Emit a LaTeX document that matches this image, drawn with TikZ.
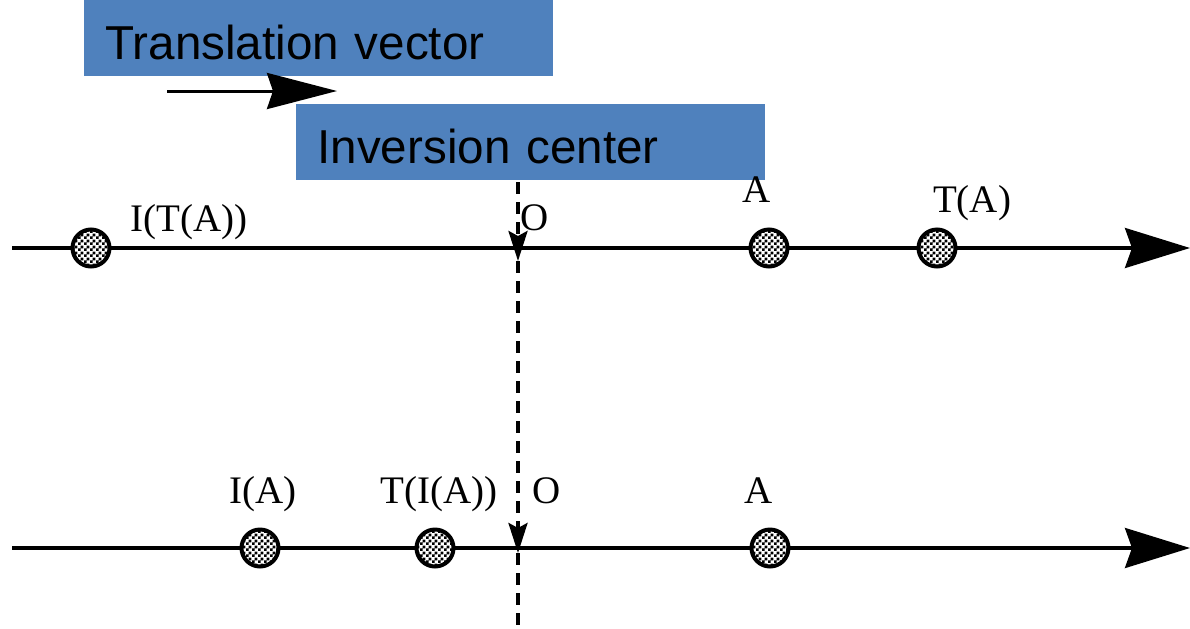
\documentclass[tikz,border=0pt]{standalone}
\usepackage{fontspec}
\setmainfont{Liberation Serif}
\setsansfont{Liberation Sans}
\usetikzlibrary{arrows.meta,patterns}
\definecolor{kastenblau}{RGB}{79,129,189}
% feines Schachbrettmuster fuer die Punkte
\pgfdeclarepatternformonly{feinschach}{\pgfqpoint{0pt}{0pt}}{\pgfqpoint{3pt}{3pt}}{\pgfqpoint{3pt}{3pt}}{%
  \pgfpathrectangle{\pgfpointorigin}{\pgfqpoint{1.55pt}{1.55pt}}%
  \pgfpathrectangle{\pgfqpoint{1.5pt}{1.5pt}}{\pgfqpoint{1.55pt}{1.55pt}}%
  \pgfusepath{fill}}
\tikzset{
  kasten/.style={fill=kastenblau,anchor=north west,minimum width=234.5pt,minimum height=38pt,
    text width=213.5pt,inner xsep=10.5pt,align=left,text height=21.4pt,text depth=0pt,
    font=\sffamily\fontsize{23.8}{28}\selectfont},
  punkt/.style={circle,draw,line width=2pt,preaction={fill=white},pattern=feinschach,
    minimum size=18.5pt,inner sep=0pt},
  marke/.style={anchor=base,inner sep=0pt,font=\fontsize{19.5}{22}\selectfont},
  achse/.style={line width=1.6pt,-{Stealth[length=32.5pt,width=20pt,inset=3.5pt]}},
  mitte/.style={line width=1.75pt,dash pattern=on 6pt off 4pt},
}
\begin{document}
\begin{tikzpicture}[x=0.5pt,y=-0.5pt]
\useasboundingbox (0,0) rectangle (1190,628);
%
% Beschriftungskaesten oben
\node[kasten] (translation) at (84,0) {Translation vector};
\coordinate (tv-start) at (167,91);
\coordinate (tv-ende) at (337,91);
\draw[line width=1.5pt,-{Stealth[length=35pt,width=18pt,inset=3pt]}] (tv-start) -- (tv-ende);
\node[kasten] (inversion) at (296,104) {Inversion center};
%
% --- Obere Achse: erst T, dann I ---
\coordinate (oben-start) at (12,248);
\coordinate (oben-ende) at (1190,248);
\draw[achse] (oben-start) -- (oben-ende);
\node[punkt] (itaa) at (91,248) {};
\node[punkt] (a-oben) at (769,248) {};
\node[punkt] (ta) at (937,248) {};
\node[marke] (l-itaa) at (189,231) {I(T(A))};
\node[marke] (l-o-oben) at (535,230) {O};
\node[marke] (l-a-oben) at (757,202) {A};
\node[marke] (l-ta) at (972,212) {T(A)};
%
% --- Untere Achse: erst I, dann T ---
\coordinate (unten-start) at (12,548);
\coordinate (unten-ende) at (1190,548);
\draw[achse] (unten-start) -- (unten-ende);
\node[punkt] (ia) at (260,548) {};
\node[punkt] (tia) at (435,548) {};
\node[punkt] (a-unten) at (770,548) {};
\node[marke] (l-ia) at (263,503) {I(A)};
\node[marke] (l-tia) at (439,503) {T(I(A))};
\node[marke] (l-o-unten) at (547,503) {O};
\node[marke] (l-a-unten) at (759,503) {A};
%
% Inversionszentrum: gestrichelte Senkrechte mit Pfeilspitzen
\coordinate (o-start) at (518,182);
\coordinate (o-oben) at (518,261);
\coordinate (o-unten) at (518,553);
\coordinate (o-ende) at (518,628);
\draw[mitte,-{Stealth[length=15pt,width=9.5pt,inset=2.5pt]}] (o-start) -- (o-oben);
\draw[mitte,-{Stealth[length=15pt,width=9.5pt,inset=2.5pt]}] (o-oben) -- (o-unten);
\draw[mitte] (o-unten) -- (o-ende);
\end{tikzpicture}
\end{document}
